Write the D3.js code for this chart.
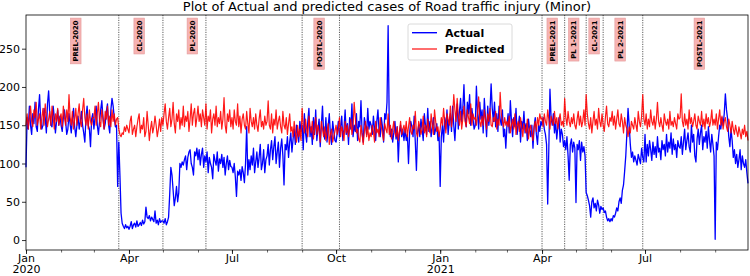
<!DOCTYPE html>
<html>
<head>
<meta charset="utf-8">
<title>Plot of Actual and predicted cases of Road traffic injury (Minor)</title>
<script src="https://d3js.org/d3.v7.min.js"></script>
<style>
  body { margin: 0; background: #fff; font-family: "DejaVu Sans", sans-serif; }
  .tick text { font-family: "DejaVu Sans", sans-serif; }
</style>
</head>
<body>
<div id="chart"></div>
<script>
// daily counts, one row per month, Jan 2020 .. Sep 2021
const actualByMonth = [
  [95,160,145,175,150,138,165,152,180,148,142,170,190,155,145,150,172,160,140,178,195,165,150,148,175,160,140,155,170,150,162],
  [150,142,160,170,155,138,145,165,152,140,158,172,148,135,150,162,145,155,168,150,140,128,160,175,150,145,122,158,165],
  [145,160,175,150,138,155,170,182,160,145,152,168,178,150,140,170,185,175,160,148,150,70,128,85,35,22,18,15,20,16,18],
  [14,18,24,15,20,22,17,25,18,20,23,19,26,21,24,43,30,28,32,25,30,27,24,38,22,26,20,28,23,25],
  [25,22,28,20,24,30,60,95,85,65,45,55,70,50,62,100,95,102,98,105,110,92,108,115,118,100,95,85,115,110,120],
  [105,118,98,112,120,95,110,102,115,88,108,100,95,80,112,104,98,115,90,106,100,112,95,108,85,100,110,92,104,96],
  [95,88,100,82,57,90,85,92,78,96,88,75,100,148,85,105,92,110,98,120,88,102,115,95,108,125,92,100,118,88,105],
  [110,125,98,118,130,105,122,135,100,115,128,95,120,132,110,72,125,118,135,108,128,140,115,132,145,125,150,138,128,155,142],
  [150,118,165,140,128,155,172,135,148,125,160,138,170,130,145,158,122,150,175,140,132,160,128,148,165,138,125,155,142,130],
  [128,140,155,135,148,162,130,145,170,138,152,125,160,145,178,135,150,142,165,130,155,148,182,140,128,160,150,138,172,145,155],
  [150,138,162,145,130,155,170,142,135,160,148,128,165,158,180,280,150,135,145,128,140,155,132,148,102,140,150,135,145,130],
  [145,130,138,100,140,155,148,135,162,128,91,140,150,135,158,145,130,165,150,138,172,142,155,135,148,160,138,145,152,130,140],
  [70,135,150,128,160,145,170,138,155,165,142,175,150,130,160,178,145,168,185,155,172,203,160,148,180,165,190,150,172,158,145],
  [150,201,165,145,180,158,170,140,185,160,135,175,150,168,204,172,155,180,148,165,142,175,158,150,170,135,145,120],
  [150,165,140,182,155,135,160,148,172,138,150,162,128,155,145,168,140,152,130,158,145,135,150,120,148,160,138,125,150,142,155],
  [150,160,145,138,125,47,120,197,160,150,165,140,155,132,148,160,128,145,138,122,130,118,135,110,78,125,132,115,128,120],
  [49,125,118,130,104,128,115,122,110,62,58,52,45,30,50,55,42,48,38,52,46,35,44,40,42,36,38,30,25,28,24],
  [28,25,32,30,35,42,38,50,55,48,65,72,90,110,140,172,150,125,108,115,102,110,104,98,112,106,100,120,108,102],
  [138,102,125,110,130,118,104,128,112,122,108,135,115,120,105,130,118,125,110,138,115,128,120,140,112,132,118,125,108,130,122],
  [120,135,112,128,145,118,130,140,122,115,150,128,138,110,102,132,145,125,140,150,118,135,128,142,120,148,130,115,138,125,110],
  [1,128,118,135,150,145,160,150,165,191,170,158,135,122,145,130,108,118,100,112,95,105,118,92,110,100,95,105,88,74]
];

const predictedByMonth = [
  [150,165,145,160,175,155,148,170,160,180,150,158,165,145,160,172,150,178,162,148,158,168,150,175,160,145,165,155,172,150,160],
  [165,148,175,160,150,170,155,190,160,150,168,145,158,172,150,165,178,155,148,170,185,160,150,165,145,170,155,150,160],
  [160,175,150,165,180,155,148,170,160,145,168,158,175,150,162,148,170,155,165,150,158,160,145,138,135,140,138,148,142,150,145],
  [140,155,162,138,145,150,135,148,158,165,140,150,145,160,135,142,168,150,130,145,155,140,148,162,150,135,145,158,142,160],
  [150,165,178,155,145,160,172,148,158,180,152,140,165,155,170,145,160,150,175,148,162,155,168,142,158,178,150,165,172,148,160],
  [175,155,165,148,170,160,150,178,145,162,155,170,140,158,165,150,175,148,160,152,168,145,158,186,150,140,165,155,170,148],
  [160,145,170,155,150,178,148,162,140,158,165,150,145,168,152,140,172,155,148,160,145,165,150,142,158,170,148,155,145,162,150],
  [155,182,150,145,165,140,158,150,170,145,155,162,148,140,168,150,145,160,138,152,165,142,148,135,155,140,128,150,135,145,130],
  [172,150,140,158,145,135,162,148,140,155,132,145,160,138,150,142,128,155,145,135,148,130,140,152,125,138,145,128,135,142],
  [150,138,145,160,135,148,142,130,155,140,150,135,145,158,138,148,180,160,140,145,132,128,150,138,125,142,155,135,148,130,140],
  [135,150,142,128,155,140,145,135,160,148,138,130,152,145,140,165,138,150,132,145,155,140,135,148,130,142,155,138,145,150],
  [140,155,135,148,160,142,138,150,145,168,140,135,155,148,138,145,162,140,150,135,158,145,140,165,150,138,170,155,142,148,135],
  [145,160,150,172,155,140,165,158,150,175,148,160,190,170,155,185,162,150,168,145,158,175,155,148,170,160,152,178,150,165,158],
  [160,150,168,187,155,148,162,150,170,158,145,165,155,172,150,148,160,155,168,145,158,150,193,165,155,148,160,150],
  [155,148,162,140,150,158,145,165,138,150,155,142,160,148,135,152,145,140,158,132,145,150,138,130,148,155,142,160,150,165,158],
  [160,148,165,155,150,170,158,145,162,155,150,168,152,160,145,158,165,150,155,148,185,160,150,168,155,148,160,152,165,150],
  [145,158,168,150,162,148,155,170,150,190,165,152,145,160,140,155,168,150,158,145,172,155,148,165,150,142,160,175,152,148,160],
  [155,168,150,162,145,158,170,152,148,165,155,140,160,150,145,135,148,140,155,150,145,160,150,142,168,155,148,162,190,158],
  [150,165,145,158,148,170,155,150,162,145,158,180,155,148,160,150,142,165,155,150,158,145,168,150,155,148,160,152,145,165,158],
  [160,191,155,148,165,150,158,145,170,152,160,148,155,165,150,145,162,155,150,168,148,158,145,165,152,160,148,155,170,150,158],
  [150,165,145,158,170,150,162,145,155,160,148,142,158,150,140,155,145,138,150,142,135,148,140,132,145,138,150,135,142,130]
];

const phaseLineDates = ["2020-03-23", "2020-05-01", "2020-06-08", "2020-09-01", "2020-10-04",
                        "2021-04-01", "2021-04-21", "2021-05-10", "2021-05-25", "2021-06-29"];
const phaseLabels = ["PREL-2020", "CL-2020", "PL-2020", "POSTL-2020",
                     "PREL-2021", "PL 1-2021", "CL-2021", "PL 2-2021", "POSTL-2021"];
const phaseLabelDates = ["2020-02-14", "2020-04-10", "2020-05-27", "2020-09-16",
                         "2021-04-10", "2021-04-29", "2021-05-17", "2021-06-09", "2021-08-18"];

const yTicks = [0, 50, 100, 150, 200, 250];
const xTickDates = ["2020-01-01", "2020-04-01", "2020-07-01", "2020-10-01", "2021-01-01", "2021-04-01", "2021-07-01"];
const xTickLabels = [["Jan", "2020"], ["Apr"], ["Jul"], ["Oct"], ["Jan", "2021"], ["Apr"], ["Jul"]];

const parse = d3.timeParse("%Y-%m-%d");
const start = new Date(2020, 0, 1);
const end = new Date(2021, 8, 30);

function toSeries(byMonth) {
  const out = [];
  byMonth.forEach((vals, m) => {
    const y = 2020 + Math.floor(m / 12), mo = m % 12;
    vals.forEach((v, i) => out.push({ date: new Date(y, mo, i + 1), value: v }));
  });
  return out;
}
const actual = toSeries(actualByMonth);
const predicted = toSeries(predictedByMonth);

const W = 750, H = 276;
const margin = { left: 26, right: 2, top: 15, bottom: 26 };

const svg = d3.select("#chart").append("svg")
  .attr("width", W).attr("height", H)
  .style("font-family", "'DejaVu Sans', sans-serif");

const x = d3.scaleTime().domain([start, end]).range([margin.left, W - margin.right]);
const y = d3.scaleLinear().domain([-13, 294]).range([H - margin.bottom, margin.top]);

// title
svg.append("text")
  .attr("x", (margin.left + W - margin.right) / 2)
  .attr("y", 11)
  .attr("text-anchor", "middle")
  .attr("font-size", "13px")
  .text("Plot of Actual and predicted cases of Road traffic injury (Minor)");

// y axis
const yAxis = svg.append("g")
  .attr("transform", `translate(${margin.left},0)`)
  .call(d3.axisLeft(y).tickValues(yTicks).tickSize(4).tickPadding(2));
yAxis.select(".domain").remove();
yAxis.selectAll("text").attr("font-size", "11px").attr("fill", "#000");
yAxis.selectAll("line").attr("stroke", "#000").attr("stroke-width", 0.8);

// x axis: minor monthly ticks, then major labelled ticks
const xMinor = svg.append("g")
  .attr("transform", `translate(0,${H - margin.bottom})`)
  .call(d3.axisBottom(x).tickValues(d3.timeMonth.range(start, end)).tickSize(2.5).tickFormat(""));
xMinor.select(".domain").remove();
xMinor.selectAll("line").attr("stroke", "#000").attr("stroke-width", 0.6);

const majorDates = xTickDates.map(parse);
const xMajor = svg.append("g")
  .attr("transform", `translate(0,${H - margin.bottom})`)
  .call(d3.axisBottom(x).tickValues(majorDates).tickSize(4).tickFormat(""));
xMajor.select(".domain").remove();
xMajor.selectAll("line").attr("stroke", "#000").attr("stroke-width", 0.8);
xMajor.selectAll(".tick").each(function (d, i) {
  const t = d3.select(this).append("text")
    .attr("fill", "#000")
    .attr("font-size", "11px")
    .attr("text-anchor", "middle")
    .attr("y", 11.5);
  xTickLabels[i].forEach((s, k) => {
    t.append("tspan").attr("x", 0).attr("dy", k === 0 ? 0 : 11.8).text(s);
  });
});

// phase boundaries
svg.append("g").selectAll("line")
  .data(phaseLineDates.map(parse))
  .join("line")
  .attr("x1", d => x(d)).attr("x2", d => x(d))
  .attr("y1", margin.top).attr("y2", H - margin.bottom)
  .attr("stroke", "#333")
  .attr("stroke-width", 0.8)
  .attr("stroke-dasharray", "1.2,1.2");

// series
const line = d3.line().x(d => x(d.date)).y(d => y(d.value));
svg.append("path").datum(actual)
  .attr("fill", "none").attr("stroke", "#0000ff").attr("stroke-width", 1.3)
  .attr("stroke-linejoin", "round").attr("d", line);
svg.append("path").datum(predicted)
  .attr("fill", "none").attr("stroke", "#ff0000").attr("stroke-width", 1.2)
  .attr("stroke-opacity", 0.9)
  .attr("stroke-linejoin", "round").attr("d", line);

// phase labels (vertical text in pink boxes)
const labelG = svg.append("g").selectAll("g")
  .data(phaseLabels)
  .join("g")
  .attr("transform", (d, i) => `translate(${x(parse(phaseLabelDates[i]))},20.5) rotate(-90)`);
labelG.append("rect");
labelG.append("text")
  .attr("text-anchor", "end")
  .attr("dy", "0.36em")
  .attr("font-size", "6.8px")
  .attr("font-weight", "bold")
  .attr("fill", "#000")
  .text(d => d);
labelG.each(function () {
  const g = d3.select(this);
  const len = g.select("text").node().getComputedTextLength();
  const pad = 2.4, h = 10.5;
  g.select("rect")
    .attr("x", -len - pad).attr("y", -h / 2)
    .attr("width", len + 2 * pad).attr("height", h)
    .attr("fill", "#f6b3b3").attr("stroke", "#e49a9a").attr("stroke-width", 0.6);
});

// frame
svg.append("rect")
  .attr("x", margin.left).attr("y", margin.top)
  .attr("width", W - margin.left - margin.right)
  .attr("height", H - margin.top - margin.bottom)
  .attr("fill", "none").attr("stroke", "#000").attr("stroke-width", 0.8);

// legend
const legend = svg.append("g").attr("transform", "translate(408,24)");
legend.append("rect")
  .attr("width", 104).attr("height", 36).attr("rx", 2)
  .attr("fill", "#fff").attr("fill-opacity", 0.85)
  .attr("stroke", "#d0d0d0").attr("stroke-width", 0.8);
const legendItems = [{ name: "Actual", color: "#0000ff" }, { name: "Predicted", color: "#ff3030" }];
legendItems.forEach((it, i) => {
  const ly = 8.7 + i * 16.3;
  legend.append("line")
    .attr("x1", 4).attr("x2", 29).attr("y1", ly).attr("y2", ly)
    .attr("stroke", it.color).attr("stroke-width", 1.4);
  legend.append("text")
    .attr("x", 37).attr("y", ly + 4)
    .attr("font-size", "11px").attr("font-weight", "bold")
    .attr("fill", "#000")
    .text(it.name);
});
</script>
</body>
</html>
